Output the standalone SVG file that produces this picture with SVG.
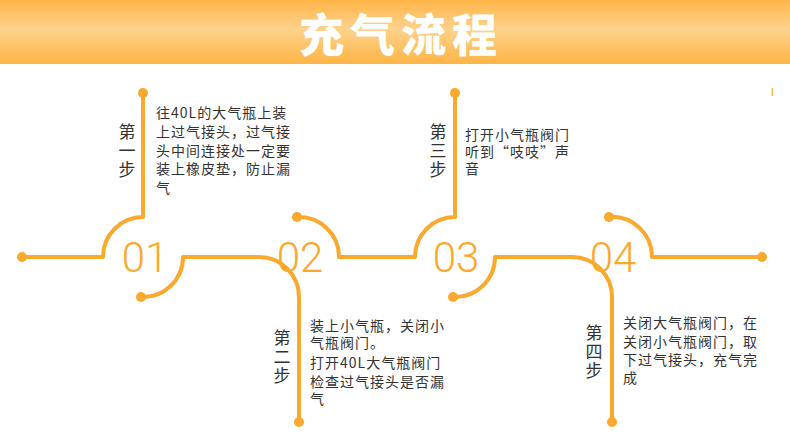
<svg xmlns="http://www.w3.org/2000/svg" width="790" height="442" viewBox="0 0 790 442">
<defs>
<linearGradient id="hdr" x1="0" y1="0" x2="0" y2="1">
<stop offset="0" stop-color="#FFB547"/>
<stop offset="0.45" stop-color="#FDD28C"/>
<stop offset="1" stop-color="#FFB445"/>
</linearGradient>
<style>
.ln{fill:none;stroke:#FAA92F;stroke-width:4;stroke-linejoin:round}
.dot{fill:#FAA92F}
.num{font-family:Roboto,"Liberation Sans",Arial,sans-serif;font-weight:300;font-size:42px;fill:#FAA92F;text-anchor:middle}
.lbl{font-family:"Noto Sans CJK SC","Liberation Sans",sans-serif;font-size:17px;fill:#333;writing-mode:vertical-rl;letter-spacing:2px}
.txt{font-family:"Noto Sans CJK SC","Liberation Sans",sans-serif;font-size:14px;fill:#333;letter-spacing:1px}
.ttl{font-family:"Noto Sans CJK SC","Liberation Sans",sans-serif;font-size:45px;font-weight:900;fill:#fff;text-anchor:middle;letter-spacing:6px}
</style>
</defs>
<rect x="0" y="0" width="790" height="64" fill="url(#hdr)"/>
<text class="ttl" x="401" y="52">充气流程</text>
<rect x="771.5" y="88" width="1.6" height="8" fill="#FAA92F" opacity="0.8"/>
<g id="connectors">
<path class="ln" d="M22,257 H103 A40,40 0 0 1 143,217 V93"/>
<path class="ln" d="M141,297 A40,40 0 0 0 183,257 H259 A40,40 0 0 1 299,297 V422"/>
<path class="ln" d="M297,217 A40,40 0 0 1 339,257 H415 A40,40 0 0 1 455,217 V93"/>
<path class="ln" d="M453,297 A40,40 0 0 0 495,257 H572 A40,40 0 0 1 612,297 V422"/>
<path class="ln" d="M609,217 A40,40 0 0 1 652,257 H762"/>
<circle class="dot" cx="22" cy="257" r="5"/>
<circle class="dot" cx="143" cy="93" r="5"/>
<circle class="dot" cx="141" cy="297" r="5"/>
<circle class="dot" cx="299" cy="422" r="5"/>
<circle class="dot" cx="297" cy="217" r="5"/>
<circle class="dot" cx="455" cy="93" r="5"/>
<circle class="dot" cx="453" cy="297" r="5"/>
<circle class="dot" cx="612" cy="422" r="5"/>
<circle class="dot" cx="609" cy="217" r="5"/>
<circle class="dot" cx="762" cy="257" r="5"/>
</g>
<g id="step1">
<text class="num" x="145" y="272">01</text>
<text class="lbl" x="127" y="123">第一步</text>
<text class="txt"><tspan x="156" y="118">往40L的大气瓶上装</tspan><tspan x="156" y="137">上过气接头，过气接</tspan><tspan x="156" y="156">头中间连接处一定要</tspan><tspan x="156" y="174">装上橡皮垫，防止漏</tspan><tspan x="156" y="193">气</tspan></text>
</g>
<g id="step2">
<text class="num" x="300" y="272">02</text>
<text class="lbl" x="282" y="329">第二步</text>
<text class="txt"><tspan x="310" y="331">装上小气瓶，关闭小</tspan><tspan x="310" y="348">气瓶阀门。</tspan><tspan x="310" y="368">打开40L大气瓶阀门</tspan><tspan x="310" y="387">检查过气接头是否漏</tspan><tspan x="310" y="404">气</tspan></text>
</g>
<g id="step3">
<text class="num" x="456" y="272">03</text>
<text class="lbl" x="438" y="123">第三步</text>
<text class="txt"><tspan x="465" y="140">打开小气瓶阀门</tspan><tspan x="465" y="157">听到“吱吱”声</tspan><tspan x="465" y="174">音</tspan></text>
</g>
<g id="step4">
<text class="num" x="613" y="272">04</text>
<text class="lbl" x="594" y="324">第四步</text>
<text class="txt"><tspan x="623" y="328">关闭大气瓶阀门，在</tspan><tspan x="623" y="347">关闭小气瓶阀门，取</tspan><tspan x="623" y="365">下过气接头，充气完</tspan><tspan x="623" y="383">成</tspan></text>
</g>
</svg>
